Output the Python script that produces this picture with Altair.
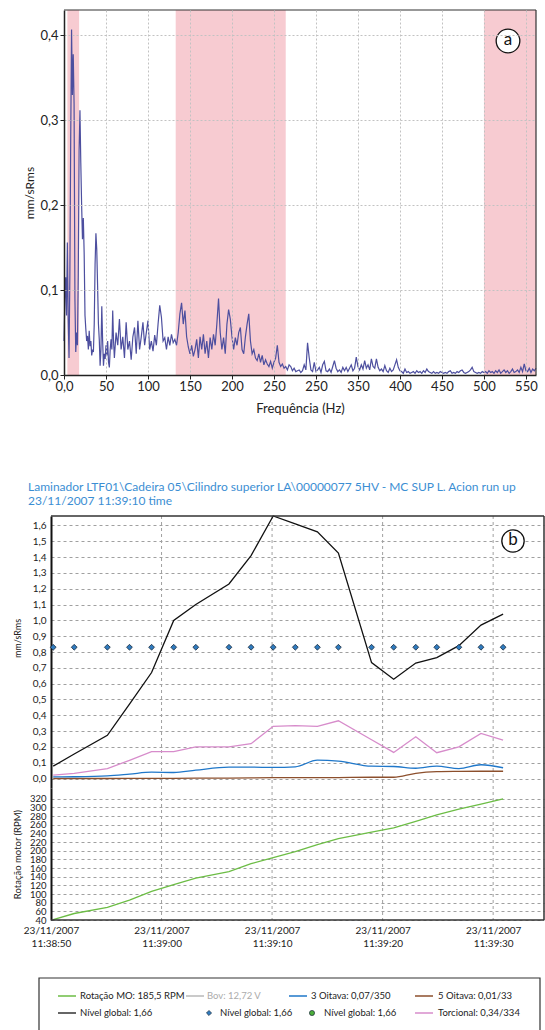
import json
import altair as alt
import pandas as pd

FONT = "Lato"

# ---------------- (a) vibration spectrum ----------------
freq_low = list(range(0, 61))          # 1 Hz bins, 0-60 Hz
amp_low = [
    0.04, 0.09, 0.115, 0.07, 0.156, 0.066, 0.02, 0.12, 0.279, 0.407,
    0.33, 0.378, 0.32, 0.09, 0.027, 0.05, 0.035, 0.12, 0.265, 0.312,
    0.25, 0.20, 0.16, 0.185, 0.144, 0.07, 0.054, 0.04, 0.046, 0.03,
    0.052, 0.034, 0.04, 0.023, 0.03, 0.027, 0.06, 0.13, 0.167, 0.148,
    0.105, 0.06, 0.042, 0.011, 0.03, 0.081, 0.04, 0.011, 0.025, 0.019,
    0.035, 0.023, 0.04, 0.015, 0.009, 0.03, 0.042, 0.03, 0.076, 0.04,
    0.02,
]
freq_high = list(range(62, 563, 2))    # 2 Hz bins, 62-562 Hz
amp_high = [
    0.05, 0.035, 0.066, 0.03, 0.045, 0.02, 0.062, 0.03, 0.04, 0.018,
    0.045, 0.056, 0.025, 0.064, 0.03, 0.045, 0.062, 0.035, 0.05, 0.064,
    0.03, 0.04, 0.028, 0.047, 0.035, 0.06, 0.082, 0.068, 0.04, 0.044,
    0.03, 0.045, 0.035, 0.048, 0.038, 0.042, 0.035, 0.05, 0.072, 0.085,
    0.06, 0.076, 0.045, 0.033, 0.025, 0.035, 0.022, 0.03, 0.042, 0.02,
    0.045, 0.03, 0.048, 0.025, 0.04, 0.02, 0.044, 0.03, 0.048, 0.035,
    0.06, 0.09, 0.05, 0.03, 0.044, 0.025, 0.06, 0.077, 0.066, 0.045,
    0.03, 0.044, 0.035, 0.05, 0.056, 0.03, 0.025, 0.045, 0.06, 0.072,
    0.04, 0.025, 0.03, 0.02, 0.017, 0.025, 0.015, 0.023, 0.012, 0.018,
    0.013, 0.01, 0.016, 0.008, 0.015, 0.02, 0.035, 0.015, 0.01, 0.013,
    0.008, 0.01, 0.006, 0.012, 0.01, 0.005, 0.008, 0.004, 0.005, 0.006,
    0.003, 0.005, 0.012, 0.006, 0.038, 0.02, 0.006, 0.004, 0.015, 0.004,
    0.006, 0.009, 0.003, 0.012, 0.016, 0.005, 0.004, 0.007, 0.003, 0.01,
    0.017, 0.008, 0.004, 0.006, 0.003, 0.009, 0.005, 0.009, 0.004, 0.008,
    0.012, 0.005, 0.008, 0.021, 0.01, 0.006, 0.012, 0.007, 0.017, 0.008,
    0.012, 0.006, 0.019, 0.01, 0.008, 0.019, 0.009, 0.005, 0.007, 0.004,
    0.011, 0.005, 0.003, 0.008, 0.004, 0.006, 0.012, 0.018, 0.009, 0.005,
    0.004, 0.002, 0.007, 0.003, 0.004, 0.002, 0.003, 0.004, 0.002, 0.005,
    0.003, 0.004, 0.002, 0.005, 0.003, 0.007, 0.004, 0.003, 0.002, 0.004,
    0.002, 0.003, 0.002, 0.004, 0.003, 0.002, 0.003, 0.002, 0.004, 0.005,
    0.002, 0.003, 0.002, 0.004, 0.003, 0.005, 0.006, 0.003, 0.002, 0.003,
    0.004, 0.006, 0.009, 0.004, 0.003, 0.002, 0.003, 0.002, 0.004, 0.003,
    0.004, 0.002, 0.005, 0.003, 0.004, 0.002, 0.005, 0.003, 0.006, 0.002,
    0.004, 0.006, 0.003, 0.005, 0.002, 0.004, 0.007, 0.003, 0.004, 0.006,
    0.003, 0.009, 0.004, 0.013, 0.005, 0.004, 0.008, 0.003, 0.007, 0.005,
    0.008,
]
assert len(freq_low) == len(amp_low)
assert len(freq_high) == len(amp_high)

band_start = [4, 133, 500]
band_end = [18, 264, 562]
x_tick_values = [0, 50, 100, 150, 200, 250, 300, 350, 400, 450, 500, 550]
x_tick_labels = ["0,0", "50", "100", "150", "200", "250", "250", "350",
                 "400", "450", "500", "550"]
y_tick_values = [0, 0.1, 0.2, 0.3, 0.4]
y_tick_labels = ["0,0", "0,1", "0,2", "0,3", "0,4"]

# ---------------- (b) run-up trend ----------------
t_sec = [0.2, 2.1, 5.1, 7.1, 9.1, 11.1, 13.1, 16.1, 18.1, 20.1,
         22.1, 24.1, 26.0, 29.0, 31.0, 33.0, 34.9, 36.9, 38.9, 40.9]
nivel_global = [0.078, 0.155, 0.273, 0.47, 0.67, 1.00, 1.10, 1.23, 1.41, 1.66,
                1.61, 1.56, 1.425, 0.733, 0.628, 0.73, 0.765, 0.84, 0.97, 1.04]
nivel_marker = [0.83, 0.83, 0.83, 0.83, 0.83, 0.83, 0.83, 0.83, 0.83, 0.83,
                0.83, 0.83, 0.83, 0.83, 0.83, 0.83, 0.83, 0.83, 0.83, 0.83]
torcional = [0.021, 0.033, 0.063, 0.115, 0.17, 0.17, 0.20, 0.20, 0.22, 0.33,
             0.335, 0.33, 0.365, 0.245, 0.165, 0.264, 0.163, 0.20, 0.285, 0.243]
oitava3 = [0.01, 0.011, 0.017, 0.028, 0.04, 0.038, 0.053, 0.072, 0.072, 0.07,
           0.074, 0.116, 0.11, 0.078, 0.076, 0.065, 0.078, 0.063, 0.087, 0.068]
oitava5 = [0.0, 0.0, 0.0, 0.001, 0.001, 0.001, 0.002, 0.003, 0.004, 0.005,
           0.005, 0.005, 0.006, 0.008, 0.008, 0.033, 0.043, 0.045, 0.046, 0.046]
rotacao = [41, 55, 69, 86, 106, 122, 137, 152, 170, 184,
           198, 214, 228, 243, 253, 268, 283, 296, 308, 320]

time_tick_values = [0, 10, 20, 30, 40]
time_tick_labels = ["11:38:50", "11:39:00", "11:39:10", "11:39:20", "11:39:30"]
date_label = "23/11/2007"
mm_tick_values = [0.0, 0.1, 0.2, 0.3, 0.4, 0.5, 0.6, 0.7, 0.8, 0.9,
                  1.0, 1.1, 1.2, 1.3, 1.4, 1.5, 1.6]
rpm_tick_values = [40, 60, 80, 100, 120, 140, 160, 180, 200, 220, 240,
                   260, 280, 300, 320]
title_lines = [
    r"Laminador LTF01\Cadeira 05\Cilindro superior LA\00000077 5HV - MC SUP L. Acion run up",
    "23/11/2007 11:39:10 time",
]
legend_labels = ["Rotação MO: 185,5 RPM", "Bov: 12,72 V", "3 Oitava: 0,07/350",
                 "5 Oitava: 0,01/33", "Nível global: 1,66", "Nível global: 1,66",
                 "Nível global: 1,66", "Torcional: 0,34/334"]

# ---------------- layout / style constants ----------------
W = 493
HA = 365
XA_RANGE = [13, 485]
H1 = 272          # mm/sRms band of chart (b)
H2 = 132          # RPM band of chart (b)
HB = H1 + H2
LEG_H = 53
GRID_A = "#c2c2c2"
GRID_B = "#a0a0a0"
FRAME = "#333333"
dummy = pd.DataFrame({"d": [0]})

# ---------------- chart (a) ----------------
spec_df = pd.DataFrame({"freq": freq_low + freq_high, "amp": amp_low + amp_high})
band_df = pd.DataFrame({"start": band_start, "end": band_end})
xs_a = alt.Scale(domain=[0, 562], range=XA_RANGE, nice=False, zero=False)
ys_a = alt.Scale(domain=[0, 0.43], nice=False)
x_axis_a = alt.Axis(
    values=x_tick_values,
    labelExpr=json.dumps(x_tick_labels) + "[round(datum.value / 50)]",
    title="Frequência (Hz)", grid=True, gridDash=[2, 2], gridColor=GRID_A,
    domainColor="#222", domainWidth=1.5, tickColor="#222", tickSize=4,
    labelFontSize=13, labelColor="#222", labelFlush=False, labelOverlap=False,
    labelPadding=1, titleFontSize=13, titleFontWeight="normal", titleColor="#222",
    titlePadding=9, zindex=1)
y_axis_a = alt.Axis(
    values=y_tick_values,
    labelExpr=json.dumps(y_tick_labels) + "[round(datum.value * 10)]",
    title="mm/sRms", offset=-13, grid=True, gridDash=[2, 2], gridColor=GRID_A,
    domainColor="#222", domainWidth=1.5, tickColor="#222", tickSize=4,
    labelFontSize=13, labelColor="#222", labelOverlap=False, labelPadding=2,
    titleFontSize=12, titleFontWeight="normal", titleColor="#222", titleX=-28,
    zindex=1)
bands = alt.Chart(band_df).mark_rect(color="#f7cbd1").encode(
    x=alt.X("start:Q", scale=xs_a, axis=x_axis_a), x2="end:Q",
    y=alt.value(0), y2=alt.value(HA))
spectrum = alt.Chart(spec_df).mark_line(color="#4d4f9f", strokeWidth=1.2).encode(
    x=alt.X("freq:Q", scale=xs_a, axis=x_axis_a),
    y=alt.Y("amp:Q", scale=ys_a, axis=y_axis_a))
a_top = alt.Chart(dummy).mark_rule(color=FRAME, strokeWidth=1.2).encode(
    x=alt.value(XA_RANGE[0]), x2=alt.value(XA_RANGE[1]), y=alt.value(0))
a_right = alt.Chart(dummy).mark_rule(color=FRAME, strokeWidth=1.2).encode(
    x=alt.value(XA_RANGE[1]), y=alt.value(0), y2=alt.value(HA))
a_circle = alt.Chart(dummy).mark_point(
    shape="circle", size=560, filled=True, fill="white", stroke="#111",
    strokeWidth=1.3, opacity=1).encode(x=alt.value(457), y=alt.value(31))
a_text = alt.Chart(dummy).mark_text(
    text="a", fontSize=17, font=FONT, color="#111", align="center",
    baseline="middle").encode(x=alt.value(457), y=alt.value(30))
chart_a = alt.layer(bands, spectrum, a_top, a_right, a_circle, a_text).properties(
    width=W, height=HA)

# ---------------- chart (b): two stacked y scales in one view ----------------
xs_b = alt.Scale(domain=[0, 44.6], nice=False, zero=False)
x_axis_b = alt.Axis(
    values=time_tick_values,
    labelExpr="['" + date_label + "', " + json.dumps(time_tick_labels)
              + "[round(datum.value / 10)]]",
    title=None, ticks=False, domain=False, grid=False,
    labelFontSize=10, labelColor="#222", labelPadding=5,
    labelLineHeight=13, labelFlush=False, labelOverlap=False)

ys_mm = alt.Scale(domain=[-0.06, 1.66], range=[H1, 0], nice=False, zero=False)
y_axis_mm = alt.Axis(
    orient="left", values=mm_tick_values,
    labelExpr="replace(format(datum.value, '.1f'), '.', ',')",
    title="mm/sRms", titleFontSize=9, titleFontWeight="normal", titleColor="#222",
    titleX=-29, titleY=122, labelFontSize=10, labelColor="#222", labelPadding=5,
    labelOverlap=False, ticks=False, domainColor="#111", domainWidth=2,
    grid=True, gridDash=[3, 3], gridColor=GRID_B)

ys_rpm = alt.Scale(domain=[40, 345], range=[HB, H1], nice=False, zero=False)
y_axis_rpm = alt.Axis(
    orient="left", values=rpm_tick_values, format="d",
    title="Rotação motor (RPM)", titleFontSize=9.5, titleFontWeight="normal",
    titleColor="#222", titleX=-29, labelFontSize=9.5, labelColor="#222",
    labelPadding=5, labelOverlap=False, ticks=False, domainColor="#111",
    domainWidth=2, grid=True, gridDash=[3, 3], gridColor=GRID_B)

# vertical time gridlines through the whole panel, placed by the time scale
vgrid_df = pd.DataFrame({"t": time_tick_values[1:]})
vgrid = alt.Chart(vgrid_df).mark_rule(color=GRID_B, strokeDash=[3, 3], strokeWidth=1).encode(
    x=alt.X("t:Q", scale=xs_b, axis=x_axis_b),
    y=alt.value(0), y2=alt.value(HB))

series_values = [oitava5, oitava3, torcional, nivel_global]
series_colors = ["#8c4f2c", "#1f77c9", "#d78ccb", "#111111"]
series_interp = ["monotone", "monotone", "linear", "linear"]
mm_layers = []
for vals, col, interp in zip(series_values, series_colors, series_interp):
    df = pd.DataFrame({"t": t_sec, "v": vals})
    mm_layers.append(
        alt.Chart(df).mark_line(color=col, strokeWidth=1.3, interpolate=interp).encode(
            x=alt.X("t:Q", scale=xs_b, axis=x_axis_b),
            y=alt.Y("v:Q", scale=ys_mm, axis=y_axis_mm)))
marker_df = pd.DataFrame({"t": t_sec, "v": nivel_marker})
mm_layers.append(
    alt.Chart(marker_df).mark_point(shape="diamond", filled=True, size=34,
                                    fill="#2f7bbf", stroke="#1a2a3a",
                                    strokeWidth=0.8, opacity=1).encode(
        x=alt.X("t:Q", scale=xs_b, axis=x_axis_b),
        y=alt.Y("v:Q", scale=ys_mm, axis=y_axis_mm)))
mm_group = alt.layer(*mm_layers)

rpm_df = pd.DataFrame({"t": t_sec, "rpm": rotacao})
rpm_line = alt.Chart(rpm_df).mark_line(color="#6cbd45", strokeWidth=1.3).encode(
    x=alt.X("t:Q", scale=xs_b, axis=x_axis_b),
    y=alt.Y("rpm:Q", scale=ys_rpm, axis=y_axis_rpm))

b_top = alt.Chart(dummy).mark_rule(color=FRAME, strokeWidth=1.5).encode(
    x=alt.value(0), x2=alt.value(W), y=alt.value(0))
b_right = alt.Chart(dummy).mark_rule(color=FRAME, strokeWidth=1.5).encode(
    x=alt.value(W), y=alt.value(0), y2=alt.value(HB))
b_bottom = alt.Chart(dummy).mark_rule(color=FRAME, strokeWidth=1.5).encode(
    x=alt.value(0), x2=alt.value(W), y=alt.value(HB))
b_circle = alt.Chart(dummy).mark_point(
    shape="circle", size=500, filled=True, fill="white", stroke="#111",
    strokeWidth=1.3, opacity=1).encode(x=alt.value(462), y=alt.value(25))
b_text = alt.Chart(dummy).mark_text(
    text="b", fontSize=17, font=FONT, color="#111", align="center",
    baseline="middle").encode(x=alt.value(462), y=alt.value(24))

title_b = alt.TitleParams(
    text=title_lines, anchor="start", frame="group", dx=-23, color="#3b8ed3",
    fontSize=12, fontWeight="normal", font=FONT, offset=5, lineHeight=14)

chart_b = alt.layer(
    vgrid, mm_group, rpm_line, b_top, b_right, b_bottom, b_circle, b_text
).resolve_scale(y="independent").properties(width=W, height=HB, title=title_b)

# ---------------- legend box ----------------
row_y = [18, 35]
leg_layers = [alt.Chart(dummy).mark_rect(fill="white", stroke=FRAME, strokeWidth=1.2).encode(
    x=alt.value(-12), x2=alt.value(489), y=alt.value(0), y2=alt.value(LEG_H))]
# (kind, colour, text colour, symbol x, text x, row)
leg_style = [
    ("line", "#6cbd45", "#222", 7, 29, 0),
    ("line", "#b8b8b8", "#ababab", 135, 156, 0),
    ("line", "#1f77c9", "#222", 238, 260, 0),
    ("line", "#8c4f2c", "#222", 364, 387, 0),
    ("line", "#333333", "#222", 7, 29, 1),
    ("diamond", "#2f7bbf", "#222", 158, 169, 1),
    ("circle", "#4caf3a", "#222", 261, 273, 1),
    ("line", "#d78ccb", "#222", 364, 387, 1),
]
for label, (kind, col, tcol, sx, tx, r) in zip(legend_labels, leg_style):
    yy = row_y[r]
    if kind == "line":
        leg_layers.append(alt.Chart(dummy).mark_rule(color=col, strokeWidth=1.5).encode(
            x=alt.value(sx), x2=alt.value(sx + 18), y=alt.value(yy)))
    else:
        leg_layers.append(alt.Chart(dummy).mark_point(
            shape=kind, filled=True, size=26, fill=col, stroke="#1a2a3a",
            strokeWidth=0.7, opacity=1).encode(x=alt.value(sx), y=alt.value(yy)))
    leg_layers.append(alt.Chart(dummy).mark_text(
        text=label, fontSize=9.5, font=FONT, color=tcol, align="left",
        baseline="middle").encode(x=alt.value(tx), y=alt.value(yy)))
legend_chart = alt.layer(*leg_layers).properties(width=W, height=LEG_H)


def spacer(h):
    return alt.Chart(dummy).mark_rule(strokeWidth=0, opacity=0).encode(
        x=alt.value(0), y=alt.value(0), y2=alt.value(h)).properties(width=10, height=h)


chart = alt.vconcat(
    chart_a, spacer(66), chart_b, spacer(29), legend_chart, spacing=0
).properties(
    padding={"left": 12, "top": 9, "right": 0, "bottom": 0}
).configure_view(stroke=None).configure_axis(
    labelFont=FONT, titleFont=FONT
).configure_text(font=FONT).configure_title(font=FONT)

chart.save("out.html", embed_options={"renderer": "svg", "actions": False})
